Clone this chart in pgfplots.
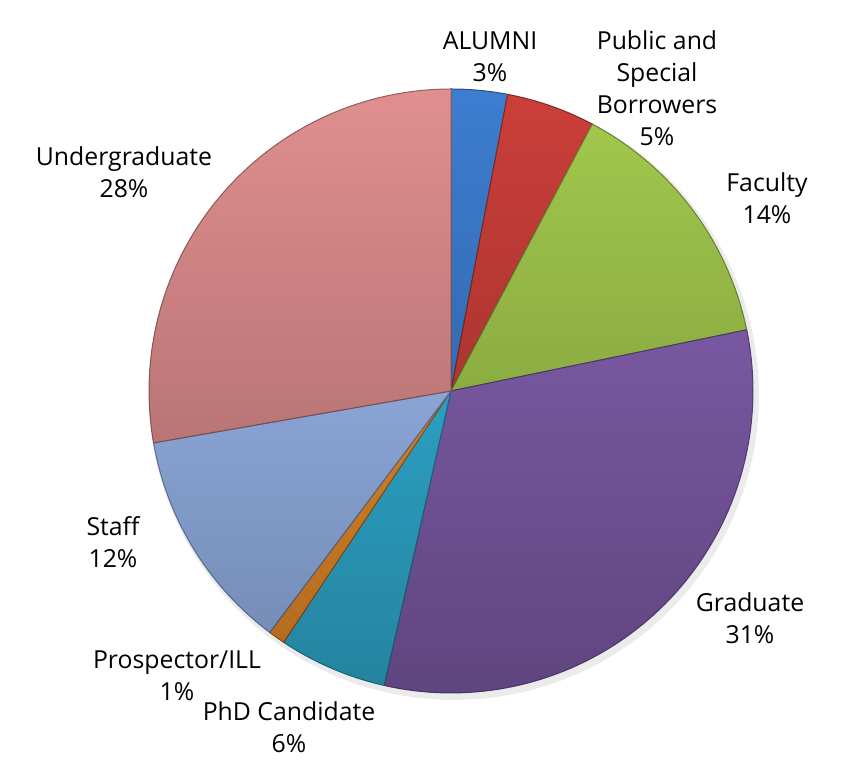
\documentclass[border=0pt]{standalone}
\usepackage{pgfplots}
\pgfplotsset{compat=1.18}
\usetikzlibrary{fadings}
\usepackage{fontspec}
\setmainfont{Open Sans}
\definecolor{calumni}{RGB}{61,126,209}
\definecolor{cpublic}{RGB}{204,63,58}
\definecolor{cfaculty}{RGB}{164,203,78}
\definecolor{cgrad}{RGB}{137,100,183}
\definecolor{cphd}{RGB}{52,188,228}
\definecolor{cprosp}{RGB}{250,150,45}
\definecolor{cstaff}{RGB}{162,194,252}
\definecolor{cunder}{RGB}{225,143,143}
% centre and radius of the pie (in picture units)
\def\cx{451}
\def\cy{372}
\def\rr{302}
% #1 = cumulative percentage before the slice, #2 = slice percentage, #3 = colour
\newcommand\slice[3]{%
  \addplot[fill=#3, draw=#3!65!black, line width=0.5pt, line join=round,
    domain={90-3.6*((#1)+(#2))}:{90-3.6*(#1)}, samples=80, variable=\t]
    ({\cx+\rr*cos(\t)},{\cy+\rr*sin(\t)}) -- (axis cs:\cx,\cy) -- cycle;
}
\begin{document}
\begin{tikzpicture}
\begin{axis}[width=434pt, height=381.5pt, scale only axis,
  xmin=0, xmax=868, ymin=0, ymax=763, hide axis, clip=false]
\addplot[draw=none] coordinates {(0,0) (868,763)};
% soft shadow
\addplot[draw=none, fill=black, fill opacity=0.08, domain=0:360, samples=120]
  ({\cx+3+(\rr+3)*cos(x)},{\cy-4+(\rr+3)*sin(x)}) -- cycle;
% slices: percentages ALUMNI 3.0, Public 4.75, Faculty 14.0, Graduate 31.8,
% PhD 5.8, Prospector 0.9, Staff 12.0, Undergraduate 27.75
\slice{0}{3.0}{calumni}
\slice{3.0}{4.75}{cpublic}
\slice{7.75}{14.0}{cfaculty}
\slice{21.75}{31.8}{cgrad}
\slice{53.55}{5.8}{cphd}
\slice{59.35}{0.9}{cprosp}
\slice{60.25}{12.0}{cstaff}
\slice{72.25}{27.75}{cunder}
% lighting overlay (darker towards the bottom)
\addplot[draw=none, fill=black, path fading=north, fill opacity=0.3,
  domain=0:360, samples=120]
  ({\cx+\rr*cos(x)},{\cy+\rr*sin(x)}) -- cycle;
% labels
\begin{scope}[every node/.style={align=center, font=\fontsize{12.4}{16}\selectfont, inner sep=0pt}]
\node at (axis cs:490,706) {ALUMNI\\3\%};
\node at (axis cs:657,675) {Public and\\Special\\Borrowers\\5\%};
\node at (axis cs:767,565) {Faculty\\14\%};
\node at (axis cs:750,145) {Graduate\\31\%};
\node at (axis cs:289,36) {PhD Candidate\\6\%};
\node at (axis cs:177,87) {Prospector/ILL\\1\%};
\node at (axis cs:113,221) {Staff\\12\%};
\node at (axis cs:124,591) {Undergraduate\\28\%};
\end{scope}
\end{axis}
\end{tikzpicture}
\end{document}
